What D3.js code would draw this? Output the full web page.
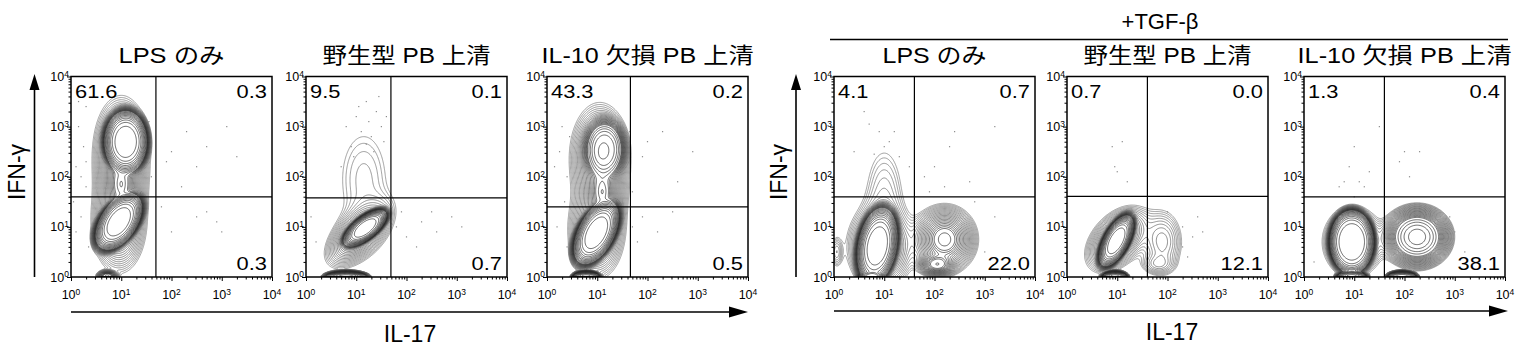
<!DOCTYPE html>
<html><head><meta charset="utf-8">
<script src="https://cdn.jsdelivr.net/npm/d3@7"></script>
<style>
html,body{margin:0;padding:0;background:#fff;}
svg{display:block;}
text{font-family:"Liberation Sans","Noto Sans CJK JP",Arial,sans-serif;fill:#000;}
</style></head><body>
<svg id="chart" width="1527" height="348"></svg>
<script>
// ---------------- data ----------------
const panelTitles = ["LPS のみ", "野生型 PB 上清", "IL-10 欠損 PB 上清", "LPS のみ", "野生型 PB 上清", "IL-10 欠損 PB 上清"];
const groupLabel = "+TGF-β";
const xAxisLabel = "IL-17";
const yAxisLabel = "IFN-γ";
const upperLeftPct  = ["61.6", "9.5", "43.3", "4.1", "0.7", "1.3"];
const upperRightPct = ["0.3", "0.1", "0.2", "0.7", "0.0", "0.4"];
const lowerRightPct = ["0.3", "0.7", "0.5", "22.0", "12.1", "38.1"];
// gate positions (log10 units)
const gateIL17  = [1.69, 1.69, 1.66, 1.6, 1.6, 1.6];
const gateIFNg  = [1.6, 1.58, 1.4, 1.6, 1.61, 1.6];
const tickExponents = [0, 1, 2, 3, 4];

// populations:
// [log IL-17 centre, log IFN-g centre, outer half-width x, outer half-width y, tilt deg, peak, shape]
const popsLPS = [
  [1.00, 2.50, 0.56, 1.12, 0, 0.03, 1.3],
  [0.95, 1.05, 0.54, 0.98, 0, 0.03, 1.3],
  [1.09, 2.70, 0.50, 0.72, 0, 1.0, 4],
  [0.95, 1.10, 0.74, 0.42, 55, 1.0, 4],
  [1.00, 1.85, 0.44, 0.95, 0, 0.06, 1.2],
  [0.72, 0.02, 0.22, 0.12, 0, 0.05, 2]
];
const popsWT = [
  [1.05, 0.85, 0.85, 0.45, 45, 0.04, 1.3],
  [1.18, 0.98, 0.60, 0.26, 38, 1.0, 4],
  [1.15, 1.95, 0.42, 0.85, 0, 0.0022, 2],
  [0.80, 0.00, 0.50, 0.14, 0, 1.0, 3]
];
const popsKO = [
  [1.05, 2.40, 0.60, 1.08, 0, 0.03, 1.3],
  [0.98, 0.90, 0.56, 0.95, 0, 0.03, 1.3],
  [1.15, 2.55, 0.46, 0.68, 0, 0.15, 3],
  [0.98, 0.88, 0.80, 0.42, 62, 1.0, 4],
  [1.10, 1.70, 0.44, 0.95, 0, 0.06, 1.2],
  [0.78, 0.00, 0.32, 0.14, 0, 1.0, 3]
];
const popsLPS_TGF = [
  [0.86, 0.62, 0.45, 0.90, -10, 1.0, 4],
  [0.92, 0.60, 0.68, 0.88, 0, 0.04, 1.3],
  [1.00, 1.65, 0.32, 0.82, 0, 0.0026, 2],
  [2.20, 0.75, 0.68, 0.72, 0, 0.06, 1.5],
  [2.05, 0.25, 0.40, 0.25, 0, 0.04, 2],
  [0.75, 0.00, 0.30, 0.14, 0, 1.0, 3],
  [0.05, 0.50, 0.10, 0.25, 0, 0.003, 2]
];
const popsWT_TGF = [
  [0.98, 0.72, 0.66, 0.29, 62, 1.0, 4],
  [1.00, 0.75, 0.80, 0.50, 48, 0.04, 1.3],
  [1.90, 0.70, 0.38, 0.60, 0, 0.005, 2],
  [1.80, 0.25, 0.25, 0.15, 0, 0.003, 2],
  [0.95, 0.00, 0.30, 0.14, 0, 1.0, 3]
];
const popsKO_TGF = [
  [0.95, 0.70, 0.50, 0.72, 0, 1.0, 5],
  [0.98, 0.70, 0.62, 0.72, 0, 0.04, 1.3],
  [2.25, 0.80, 0.75, 0.68, 0, 0.15, 2],
  [0.95, 0.00, 0.35, 0.15, 0, 1.0, 3],
  [1.95, 0.00, 0.35, 0.14, 0, 0.8, 3]
];

// outlier events (log10 IL-17, log10 IFN-g)
const dotsLPS = [[2.3,2.9],[2.5,2.2],[3.1,3.0],[2.0,2.5],[2.7,2.6],[1.9,2.3],[3.3,2.4],[2.2,1.8],[2.5,1.2],[2.9,1.1],[2.0,0.9],[2.7,1.3],[3.0,0.9],[1.8,1.4],
  [0.15,3.0],[0.25,2.6],[0.1,2.2],[0.3,1.8],[0.2,1.2],[0.1,0.9],[0.3,3.4],[0.35,0.6],[0.05,1.5],[0.2,2.0],[0.15,3.5],[0.3,2.3],[1.55,3.1],[1.6,2.0]];
const dotsWT = [[1.0,3.2],[1.2,3.5],[1.4,3.3],[1.5,3.0],[1.1,2.9],[1.3,2.8],[0.9,2.6],[1.45,3.6],[1.25,3.1],[1.55,2.7],[0.8,3.0],[1.05,3.4],[1.35,2.5],[0.7,2.2],[1.6,3.2],[0.95,2.4],[1.2,2.65],
  [1.8,1.0],[2.0,0.8],[2.3,1.1],[2.6,0.9],[2.9,1.2],[2.2,0.6],[2.5,1.3],[1.9,1.3],[3.1,1.0],[0.1,1.2],[0.2,0.7]];
const dotsKO = [[0.3,3.0],[0.25,2.5],[0.4,2.0],[0.35,1.5],[0.2,1.0],[0.4,0.6],[0.15,2.2],[0.45,2.8],[2.0,2.7],[2.3,2.9],[2.6,1.9],[1.9,2.4],[2.9,2.5],
  [1.7,1.0],[1.9,1.2],[2.2,0.9],[2.5,1.3],[1.8,0.7],[1.65,2.9],[1.7,1.7]];
const dotsLPS_TGF = [[0.7,3.05],[0.9,2.9],[1.2,2.9],[1.0,2.6],[0.4,2.5],[1.3,2.4],[0.8,2.45],[1.5,2.2],[0.6,3.3],[1.1,2.7],
  [2.4,2.9],[2.3,2.6],[2.0,2.2],[2.7,1.9],[3.2,3.0],[1.8,2.0],[2.2,1.8],[1.9,1.7],[3.2,1.2],[3.0,0.5],[2.8,1.5]];
const dotsWT_TGF = [[0.9,2.6],[0.95,2.2],[1.0,2.1],[1.2,1.9],[1.1,2.7],[2.3,1.0],[2.5,0.8],[2.6,1.2],[2.7,0.9],[2.3,0.6],[2.0,1.3],[2.4,0.4]];
const dotsKO_TGF = [[1.5,3.0],[1.0,2.6],[0.9,2.2],[1.1,1.9],[1.3,2.1],[1.2,1.8],[0.8,1.9],[1.0,1.6],[0.7,1.8],[2.0,2.5],[2.3,2.5],[1.9,2.3],[2.1,2.0],[3.0,0.9],[3.2,0.5],[2.9,1.2],[0.2,0.3]];

// ---------------- layout ----------------
const panelPops = [popsLPS, popsWT, popsKO, popsLPS_TGF, popsWT_TGF, popsKO_TGF];
const panelDots = [dotsLPS, dotsWT, dotsKO, dotsLPS_TGF, dotsWT_TGF, dotsKO_TGF];
const panelLeft = [71, 306, 547, 834, 1067, 1304];
const panelW = 201, panelTop = 76.5, panelBottom = 277;
const titleWidths = [106, 168, 212, 104, 168, 214];

const svg = d3.select("#chart");
const N = 240;
const levMin = -2.9;
const tMin = Math.pow(10, levMin);
// fine contour steps in the tails, coarser steps towards the peaks
const levelExps = d3.range(-2.9, -1.45, 0.07).concat(d3.range(-1.35, -0.05, 0.14));
const thresholds = levelExps.map(e => Math.pow(10, e));

function densityGrid(pops) {
  const comps = pops.filter(d => d[5] > tMin).map(([cx, cy, hx, hy, ang, w, p]) => {
    const a = ang * Math.PI / 180;
    const rOut = Math.pow(2 * Math.log(w / tMin), 1 / p);
    return {cx, cy, sx: hx / rOut, sy: hy / rOut, c: Math.cos(a), s: Math.sin(a), w, p};
  });
  const vals = new Float64Array(N * N);
  for (let j = 0; j < N; j++) {
    const ly = (j + 0.5) / N * 4;
    for (let i = 0; i < N; i++) {
      const lx = (i + 0.5) / N * 4;
      let f = 0;
      for (const k of comps) {
        const dx = lx - k.cx, dy = ly - k.cy;
        const u = (dx * k.c + dy * k.s) / k.sx;
        const v = (-dx * k.s + dy * k.c) / k.sy;
        f += k.w * Math.exp(-0.5 * Math.pow(u * u + v * v, k.p / 2));
      }
      vals[j * N + i] = f;
    }
  }
  return vals;
}

const fmtSup = (sel) => {
  sel.append("tspan").text("10");
  sel.append("tspan").attr("font-size", 8.5).attr("dy", -4.5).text(e => e);
};

panelLeft.forEach((left, pi) => {
  const right = left + panelW;
  const xs = d3.scaleLog().domain([1, 1e4]).range([left, right]);
  const ys = d3.scaleLog().domain([1, 1e4]).range([panelBottom, panelTop]);
  const g = svg.append("g");

  const clipId = "clip" + pi;
  g.append("clipPath").attr("id", clipId).append("rect")
    .attr("x", left).attr("y", panelTop).attr("width", panelW).attr("height", panelBottom - panelTop);

  // contours
  const vals = densityGrid(panelPops[pi]);
  const contours = d3.contours().size([N, N]).thresholds(thresholds)(vals);
  const proj = d3.geoTransform({point(x, y) {
    this.stream.point(xs(Math.pow(10, x / N * 4)), ys(Math.pow(10, y / N * 4)));
  }});
  const path = d3.geoPath(proj);
  const col = d3.interpolateRgb("#7a7a7a", "#2a2a2a");
  const cg = g.append("g").attr("clip-path", `url(#${clipId})`);
  cg.selectAll("path").data(contours).join("path")
    .attr("d", path).attr("fill", "none")
    .attr("stroke", (d, i) => col(Math.min(1, i / 20)))
    .attr("stroke-width", 0.7);

  // outlier dots
  cg.selectAll("rect.dot").data(panelDots[pi]).join("rect").attr("class", "dot")
    .attr("x", d => xs(Math.pow(10, d[0])) - 0.6).attr("y", d => ys(Math.pow(10, d[1])) - 0.6)
    .attr("width", 1.2).attr("height", 1.2).attr("fill", "#8a8a8a");

  // quadrant gates
  g.append("line").attr("x1", xs(Math.pow(10, gateIL17[pi]))).attr("x2", xs(Math.pow(10, gateIL17[pi])))
    .attr("y1", panelTop).attr("y2", panelBottom).attr("stroke", "#000").attr("stroke-width", 1.2);
  g.append("line").attr("x1", left).attr("x2", right)
    .attr("y1", ys(Math.pow(10, gateIFNg[pi]))).attr("y2", ys(Math.pow(10, gateIFNg[pi])))
    .attr("stroke", "#000").attr("stroke-width", 1.2);

  // frame
  g.append("rect").attr("x", left).attr("y", panelTop).attr("width", panelW).attr("height", panelBottom - panelTop)
    .attr("fill", "none").attr("stroke", "#000").attr("stroke-width", 1.5);

  // axes ticks (major + minor)
  const majors = tickExponents.map(e => Math.pow(10, e));
  const minors = [];
  for (let e = 0; e < 4; e++) for (let m = 2; m <= 9; m++) minors.push(m * Math.pow(10, e));
  const axB = g.append("g").attr("transform", `translate(0,${panelBottom})`);
  axB.append("g").call(d3.axisBottom(xs).tickValues(majors).tickSize(4).tickFormat(""));
  axB.append("g").call(d3.axisBottom(xs).tickValues(minors).tickSize(2.5).tickFormat(""));
  const axL = g.append("g").attr("transform", `translate(${left},0)`);
  axL.append("g").call(d3.axisLeft(ys).tickValues(majors).tickSize(4).tickFormat(""));
  axL.append("g").call(d3.axisLeft(ys).tickValues(minors).tickSize(2.5).tickFormat(""));
  g.selectAll(".domain").remove();
  g.selectAll(".tick line").attr("stroke", "#000").attr("stroke-width", 1);

  // tick labels
  g.append("g").selectAll("text").data(tickExponents).join("text")
    .attr("x", e => xs(Math.pow(10, e))).attr("y", panelBottom + 22)
    .attr("text-anchor", "middle").attr("font-size", 12.5).call(fmtSup);
  g.append("g").selectAll("text").data(tickExponents).join("text")
    .attr("x", left - 2).attr("y", e => ys(Math.pow(10, e)) + 4.5)
    .attr("text-anchor", "end").attr("font-size", 12.5).call(fmtSup);

  // quadrant percentages
  const pct = (txt, x, y, anchor) => g.append("text")
    .attr("transform", `translate(${x},${y}) scale(1.15,1)`)
    .attr("text-anchor", anchor).attr("font-size", 19).text(txt);
  pct(upperLeftPct[pi], left + 4, panelTop + 21, "start");
  pct(upperRightPct[pi], right - 5, panelTop + 21, "end");
  pct(lowerRightPct[pi], right - 5, panelBottom - 7, "end");

  // title
  g.append("text").attr("x", (left + right) / 2).attr("y", 63)
    .attr("text-anchor", "middle").attr("font-size", 22)
    .attr("textLength", titleWidths[pi]).attr("lengthAdjust", "spacingAndGlyphs")
    .text(panelTitles[pi]);
});

// group header
svg.append("text").attr("x", 1160).attr("y", 29).attr("text-anchor", "middle").attr("font-size", 22).text(groupLabel);
svg.append("line").attr("x1", 830).attr("x2", 1508).attr("y1", 39.5).attr("y2", 39.5).attr("stroke", "#000").attr("stroke-width", 1.5);

// arrows + axis titles for both groups
const groups = [
  {x0: 71, x1: 748, ax: 34.5, ayTop: 74, ay: 312, lx: 25, xl: 410, xlY: 342},
  {x0: 834, x1: 1508, ax: 796, ayTop: 74, ay: 311, lx: 787, xl: 1172, xlY: 340}
];
groups.forEach(gr => {
  svg.append("line").attr("x1", gr.ax).attr("x2", gr.ax).attr("y1", panelBottom).attr("y2", gr.ayTop + 14)
    .attr("stroke", "#000").attr("stroke-width", 1.6);
  svg.append("path").attr("d", `M${gr.ax - 5},${gr.ayTop + 16}L${gr.ax},${gr.ayTop}L${gr.ax + 5},${gr.ayTop + 16}Z`).attr("fill", "#000");
  svg.append("line").attr("x1", gr.x0).attr("x2", gr.x1 - 16).attr("y1", gr.ay).attr("y2", gr.ay)
    .attr("stroke", "#000").attr("stroke-width", 1.6);
  svg.append("path").attr("d", `M${gr.x1 - 19},${gr.ay - 5.5}L${gr.x1},${gr.ay}L${gr.x1 - 19},${gr.ay + 5.5}Z`).attr("fill", "#000");
  svg.append("text").attr("transform", `translate(${gr.lx},172) rotate(-90)`).attr("text-anchor", "middle")
    .attr("font-size", 23).text(yAxisLabel);
  svg.append("text").attr("x", gr.xl).attr("y", gr.xlY).attr("text-anchor", "middle").attr("font-size", 23).text(xAxisLabel);
});
</script>
</body></html>
